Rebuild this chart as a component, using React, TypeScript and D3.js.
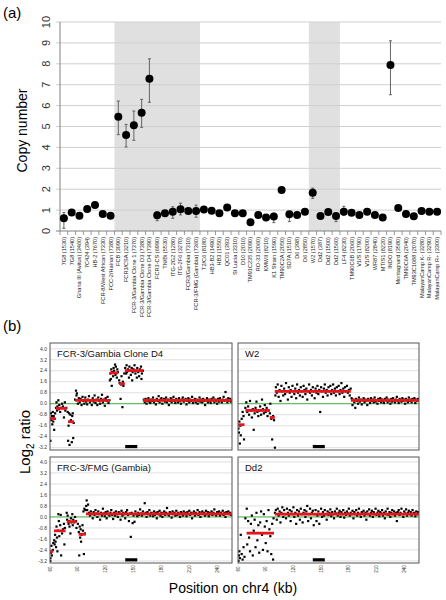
import React from 'react';
import * as d3 from 'd3';

// ---------- Panel (a) data ----------
const categories = [
  '7G8 (1530)', '7G8 (1540)', 'Ghana III (Avitus) (3460)', '7C424 (394)', 'HB-2 (7670)',
  'FCR-8/West African (7330)', 'FCC-2/Hainan (7380)', 'FCB (3090)', 'FCR3/CSA (3210)',
  'FCR-3/Gambia Clone 1 (7370)', 'FCR-3/Gambia Clone D3 (7380)', 'FCR-3/Gambia Clone D4 (7390)',
  'FCR3-CS (6990)', 'TN/Bi (5530)', 'ITG-2G2 (1280)', 'ITG-2F6 (3270)', 'FCR3/Gambia (7310)',
  'FCR-3/FMG (Gambia) (7360)', 'T2/C6 (8180)', 'HB3-B2 (1490)', 'HB3 (1550)', 'QC01 (393)',
  'St Lucia (3310)', 'D10 (2010)', 'TM91C235 (2090)', 'RO-33 (2060)', 'KMWII (8210)',
  'K1 Strain (1590)', 'TM90C2A (2050)', 'SD7A (1510)', 'D6 (398)', 'D6 (2850)', 'W2 (1570)',
  'Dd2 (387)', 'Dd2 (1500)', 'Dd2 (1560)', 'LF4 (8230)', 'TM90C6B (2060)', 'V1/S (1790)',
  'V1/S (8200)', 'WR87 (2840)', 'MT/S1 (8220)', 'INDO (8190)', 'Montagnard (3580)',
  'TM90C6A (2040)', 'TM93C1088 (2070)', 'MalayanCamp K- (3280)', 'MalayanCamp R- (3290)',
  'MalayanCamp R+ (3300)',
];
const copyNumber = [
  0.61, 0.88, 0.73, 1.05, 1.24, 0.81, 0.73, 5.47, 4.59, 5.06, 5.66, 7.29, 0.75, 0.85, 0.92, 1.04,
  0.96, 0.96, 1.03, 0.97, 0.85, 1.12, 0.85, 0.85, 0.42, 0.77, 0.65, 0.69, 1.96, 0.8, 0.77, 0.92,
  1.83, 0.72, 0.91, 0.72, 0.92, 0.87, 0.77, 0.92, 0.77, 0.65, 7.94, 1.1, 0.81, 0.71, 0.96, 0.92, 0.92,
];
const errLow = [
  0.13, 0.83, 0.68, 1.0, 1.19, 0.76, 0.68, 4.61, 4.02, 4.34, 4.96, 6.16, 0.49, 0.8, 0.61, 0.77,
  0.91, 0.66, 0.98, 0.92, 0.8, 1.07, 0.8, 0.8, 0.37, 0.72, 0.6, 0.4, 1.91, 0.45, 0.72, 0.87,
  1.56, 0.67, 0.86, 0.45, 0.76, 0.82, 0.72, 0.87, 0.72, 0.6, 6.52, 1.05, 0.76, 0.66, 0.91, 0.87, 0.87,
];
const errHigh = [
  0.88, 0.93, 0.78, 1.1, 1.29, 0.86, 0.78, 6.22, 5.1, 5.74, 6.3, 8.24, 0.92, 0.9, 1.16, 1.33,
  1.01, 1.24, 1.08, 1.02, 0.9, 1.17, 0.9, 0.9, 0.47, 0.82, 0.7, 0.85, 2.01, 0.92, 0.82, 0.97,
  2.05, 0.77, 0.96, 0.85, 1.18, 0.92, 0.82, 0.97, 0.82, 0.7, 9.1, 1.15, 0.86, 0.76, 1.01, 0.97, 0.97,
];
const shadedGroups = [
  ['FCB (3090)', 'FCR-3/FMG (Gambia) (7360)'],
  ['W2 (1570)', 'Dd2 (1560)'],
];
const copyTicks = [0, 1, 2, 3, 4, 5, 6, 7, 8, 9, 10];

// ---------- Panel (b) data ----------
const panelTitles = ['FCR-3/Gambia Clone D4', 'W2', 'FRC-3/FMG (Gambia)', 'Dd2'];
const log2Ticks = [4.0, 3.2, 2.4, 1.6, 0.8, 0.0, -0.8, -1.6, -2.4, -3.2];
const positionTicks = [60, 90, 120, 150, 180, 210, 240];
const ampliconRegion = [141, 154];

// segments: [start kb, end kb, log2 ratio]
const segD4 = [[60, 65.4, -1.07], [66.5, 78, -0.34], [79.4, 85.8, -1.31], [87, 124.5, 0.24], [124.5, 133.5, 2.24], [134.5, 140.6, 1.46], [140.6, 160.3, 2.41], [160.3, 256, 0.24]];
const segW2 = [[60, 67, -1.53], [68, 94.4, -0.49], [94.4, 99.8, -1.0], [99.8, 182.2, 0.9], [182.2, 256, 0.24]];
const segFMG = [[60, 63.6, -2.51], [64.3, 76.8, -1.01], [78, 88.7, -0.34], [90.8, 98.7, -1.26], [98.7, 256, 0.22]];
const segDd2 = [[69.3, 99, -1.18], [99.8, 256, 0.2]];

// probes: flat [kb, log2, kb, log2, ...]
const probesD4 = [
  60.5, -2.7, 61, -0.7, 61.5, -1.2, 62, -0.9, 62.5, -1.5, 63, -0.6, 63.5, -1.3, 64, -0.9, 64.5, -1.9, 65, -1.1, 65.5, -0.7,
  66.5, -0.3, 67, 0.1, 67.5, -0.5, 68, -0.2, 69, 0.25, 69.5, -0.4, 70, -0.1, 71, -0.6, 72, -0.3, 73, 0.0, 74, -0.2, 75, -1.0, 76, 0.1, 76.5, -0.5, 77.5, -0.3,
  79, -0.6, 79.5, -2.7, 80, -1.6, 80.5, -0.7, 81, -3.0, 82, -0.8, 82.5, -1.2, 83, -1.3, 83.5, -2.8, 84, -0.9, 84.5, -0.7, 85, -2.5, 85.5, -1.4,
  87, 0.3, 88, 0.95, 88.5, 0.6, 89, 0.75, 90, 0.0, 91, 0.4, 92, 0.1, 93, 0.35, 94, -0.1, 95, 0.5, 96, 0.2, 97, 0.0, 98, 0.45, 99, 0.15, 100, -0.05,
  101, 0.3, 102, 0.55, 103, 0.1, 104, 0.25, 105, -0.1, 106, 0.4, 107, 0.15, 108, 0.6, 109, 0.05, 110, 0.3, 111, -0.1, 112, 0.45, 113, 0.2, 114, 0.0,
  115, 0.35, 116, 0.65, 117, 0.1, 118, 0.3, 119, -0.15, 120, 0.4, 121, 0.2, 122, 0.5, 123, 0.05, 124, 0.25,
  124.5, 1.7, 125, 2.2, 125.5, 1.8, 126, 2.5, 126.5, 1.3, 127, 2.3, 128, 2.0, 128.5, 2.6, 129, 2.4, 130, 2.85, 130.5, 2.1, 131, 2.7, 132, 1.9, 132.5, 2.5, 133, 2.3,
  134.5, 1.7, 135, 1.5, 136, 0.35, 136.5, 1.4, 137, 2.0, 138, -0.25, 138.5, 1.6, 139, 1.3, 140, 2.2,
  141, 2.6, 142, 2.2, 142.5, 2.8, 143, 2.3, 144, 2.5, 145, 1.9, 145.5, 2.7, 146, 2.4, 147, 2.1, 148, 2.6, 148.5, 1.7, 149, 2.3, 150, 2.5, 151, 2.8,
  152, 2.2, 153, 2.4, 153.5, 1.9, 154, 2.6, 155, 2.3, 156, 2.0, 157, 2.5, 158, 2.7, 158.5, 1.8, 159, 2.2, 160, 2.4,
  161, 0.3, 162, 0.1, 163, 0.35, 164, 0.0, 165, 0.2, 166, 0.4, 167, 0.15, 168, 0.05, 169, 0.3, 170, 0.2, 171, 0.45, 172, 0.1, 173, 0.25, 174, -0.05,
  175, 0.35, 176, 0.2, 177, 0.55, 178, 0.1, 179, 0.3, 180, 0.4, 181, 0.0, 182, 0.25, 183, 0.35, 184, 0.15, 185, 0.45, 186, 0.1, 187, 0.3, 188, -0.1,
  189, 0.2, 190, 0.4, 191, 0.1, 192, 0.3, 193, 0.5, 194, 0.2, 195, 0.05, 196, 0.35, 197, 0.25, 198, 0.1, 199, 0.4, 200, 0.2, 201, 0.0, 202, 0.3,
  203, 0.45, 204, 0.15, 205, 0.25, 206, 0.35, 207, -0.05, 208, 0.2, 209, 0.4, 210, 0.1, 211, 0.3, 212, 0.2, 213, 0.5, 214, 0.05, 215, 0.25, 216, 0.35,
  217, 0.1, 218, 0.3, 219, 0.0, 220, 0.2, 221, 0.45, 222, 0.15, 223, 0.3, 224, 0.1, 225, 0.35, 226, 0.2, 227, -0.1, 228, 0.25, 229, 0.4, 230, 0.1,
  231, 0.3, 232, 0.2, 233, 0.05, 234, 0.35, 235, 0.25, 236, 0.45, 237, 0.1, 238, 0.3, 239, 0.2, 240, 0.0, 241, 0.35, 242, 0.15, 243, 0.4, 244, 0.25,
  245, 0.1, 246, 0.3, 247, 0.5, 248, 0.2, 249, 0.85, 250, 0.3, 251, 0.1, 252, 0.4, 253, 0.2, 254, 0.35, 255, 0.15,
];
const probesW2 = [
  60.5, -1.8, 61, -2.1, 61.5, -1.3, 62, -2.9, 62.5, -1.6, 63, -2.3, 64, -1.1, 65, -0.6, 66, -0.9, 66.5, -2.6,
  68, -0.3, 69, 0.1, 70, -0.6, 71, -0.2, 72, -0.8, 73, 0.2, 74, -0.5, 75, -1.0, 76, -0.4, 77, -1.9, 78, -0.7, 79, -0.3, 80, 0.15, 81, -0.6,
  82, -0.9, 83, -0.5, 84, -0.2, 85, -0.8, 86, 0.3, 87, -0.4, 88, -0.7, 89, -0.1, 90, -0.6, 91, -0.3, 92, -0.9, 93, -0.5,
  94.5, -0.7, 95, 0.0, 96, -1.1, 97, -2.6, 98, -0.9, 99, -1.2, 100, -3.2,
  100.5, 0.6, 101, 1.2, 102, 0.8, 103, 1.4, 104, 0.5, 105, 1.0, 106, 0.2, 107, 1.3, 108, 0.9, 109, 0.6, 110, 1.1, 111, 0.7, 112, 1.5, 113, 0.9,
  114, 0.3, 115, 1.2, 116, 0.8, 117, 1.0, 118, 0.5, 119, 1.3, 120, 0.9, 121, 0.7, 122, 1.1, 123, 0.4, 124, 1.4, 125, 0.8, 126, 1.0, 127, 0.6,
  128, 1.2, 129, 0.9, 130, 0.5, 131, 1.3, 132, 1.0, 133, 0.7, 134, 1.1, 135, 0.3, 136, 0.9, 137, 1.4, 138, 0.8, 139, 1.0, 140, 0.6, 141, 1.2,
  142, 0.9, 143, 0.4, 144, 1.1, 145, 0.8, 146, 1.3, 147, 0.7, 148, 1.0, 149, -0.6, 150, 1.2, 151, 0.9, 152, 0.5, 153, 1.1, 154, 1.4, 155, 0.8,
  156, 1.0, 157, 0.6, 158, 1.2, 159, 0.9, 160, 1.3, 161, 0.7, 162, 1.0, 163, 1.4, 164, 0.8, 165, 1.1, 166, 0.6, 167, 1.2, 168, 0.9, 169, 1.3,
  170, 0.7, 171, 1.0, 172, 1.5, 173, 0.8, 174, 1.1, 175, 0.5, 176, 1.2, 177, 0.9, 178, 1.3, 179, 0.8, 180, 1.0, 181, 0.6, 182, 1.1,
  183, 0.4, 184, -0.1, 185, 0.3, 186, 0.1, 187, -0.3, 188, 0.35, 189, 0.2, 190, 0.0, 191, 0.45, 192, 0.15, 193, 0.3, 194, -0.05, 195, 0.25,
  196, 0.4, 197, 0.1, 198, 0.3, 199, 0.2, 200, -0.1, 201, 0.35, 202, 0.25, 203, 0.05, 204, 0.4, 205, 0.2, 206, 0.3, 207, 0.1, 208, 0.45,
  209, 0.15, 210, 0.25, 211, 0.0, 212, 0.35, 213, 0.2, 214, 0.4, 215, 0.1, 216, 0.3, 217, 0.2, 218, 0.05, 219, 0.35, 220, 0.25, 221, 0.45,
  222, 0.1, 223, 0.3, 224, 0.2, 225, 0.0, 226, 0.35, 227, 0.15, 228, 0.4, 229, 0.25, 230, 0.1, 231, 0.3, 232, 0.5, 233, 0.2, 234, 0.05,
  235, 0.35, 236, 0.25, 237, 0.15, 238, 0.4, 239, 0.2, 240, 0.3, 241, 0.0, 242, 0.35, 243, 0.25, 244, 0.1, 245, 0.45, 246, 0.2, 247, 0.3,
  248, 0.1, 249, 0.35, 250, 0.25, 251, 0.4, 252, 0.05, 253, 0.3, 254, 0.2, 255, 0.35,
];
const probesFMG = [
  60.3, -3.2, 60.5, -3.0, 61, -2.6, 61.5, -2.1, 62, -2.8, 63, -2.4, 63.5, -1.9,
  64.5, -1.7, 65, -2.0, 65.5, -1.3, 66, -1.8, 66.5, -2.2, 67, -0.7, 67.5, -1.5, 68, -2.5, 68.5, -1.0, 69, 0.2, 69.5, -0.3, 70, -1.4, 71, -0.6,
  71.5, 0.15, 72, -2.8, 73, -1.2, 74, -0.9, 75, -0.5, 75.5, -2.0, 76, -0.8,
  78, 0.3, 78.5, -0.2, 79, 0.1, 80, -0.5, 80.5, -0.3, 81, -0.7, 82, -1.2, 82.5, -0.1, 83, -0.4, 84, 0.2, 84.5, -0.6, 85, -0.2, 86, -0.4, 87, 0.0,
  88, -0.3, 88.5, -0.8,
  90, -0.5, 91, -1.1, 91.5, -2.8, 92, -0.7, 92.5, -1.5, 93, -0.9, 93.5, -1.8, 94, -1.3, 95, -0.6, 95.5, -1.0, 96, 0.4, 96.5, -2.7, 97, 0.6,
  97.5, -1.2, 98, 0.5,
  99, 0.8, 99.5, 1.2, 100, 0.5, 101, 0.9, 102, 0.3, 103, 0.1, 104, 0.4, 105, 0.2, 106, -0.1, 107, 0.35, 108, 0.15, 109, 0.5, 110, 0.25, 111, 0.0,
  112, 0.4, 113, 0.2, 114, -0.2, 115, 0.3, 116, 0.1, 117, 0.6, 118, 0.25, 119, 0.05, 120, 0.35, 121, -0.1, 122, 0.4, 123, 0.2, 124, 0.1, 125, 0.3,
  126, 0.5, 127, 0.15, 128, -0.15, 129, 0.3, 130, 0.1, 131, 0.4, 132, 0.2, 133, 0.0, 134, 0.35, 135, 0.25, 136, -0.2, 137, 0.45, 138, 0.1, 139, 0.3,
  140, 0.2, 141, -0.1, 142, 0.35, 143, 0.5, 144, 0.15, 145, -0.3, 146, 0.25, 147, -1.45, 148, 0.3, 149, -0.45, 150, 0.1, 151, -0.35, 152, 0.4,
  153, 0.2, 154, 0.05, 155, 0.3, 156, 0.15, 157, 0.55, 158, 0.25, 159, 0.1, 160, 0.4, 161, 0.2, 162, 1.0, 163, 0.3, 164, 0.0, 165, 0.35, 166, 0.2,
  167, 0.5, 168, 0.1, 169, 0.3, 170, 0.25, 171, 0.05, 172, 0.4, 173, 0.15, 174, 0.3, 175, -0.1, 176, 0.35, 177, 0.2, 178, 0.45, 179, 0.1, 180, 0.3,
  181, 0.0, 182, 0.25, 183, 0.4, 184, 0.15, 185, 0.3, 186, 0.65, 187, 0.2, 188, 0.1, 189, 0.35, 190, 0.25, 191, -0.05, 192, 0.4, 193, 0.2, 194, 0.3,
  195, 0.1, 196, 0.45, 197, 0.15, 198, 0.3, 199, 0.2, 200, 0.0, 201, 0.35, 202, 0.25, 203, 0.1, 204, 0.4, 205, 0.2, 206, 0.3, 207, 0.05, 208, 0.35,
  209, 0.2, 210, 0.45, 211, 0.15, 212, 0.3, 213, -0.1, 214, 0.25, 215, 0.4, 216, 0.1, 217, 0.3, 218, 0.2, 219, 0.5, 220, 0.15, 221, 0.35, 222, 0.0,
  223, 0.25, 224, 0.4, 225, 0.2, 226, 0.3, 227, 0.1, 228, 0.45, 229, 0.2, 230, 0.35, 231, 0.05, 232, 0.3, 233, 0.2, 234, 0.4, 235, 0.15, 236, 0.3,
  237, 0.55, 238, 0.2, 239, 0.1, 240, 0.35, 241, 0.25, 242, 0.4, 243, 0.1, 244, 0.3, 245, 0.2, 246, 0.45, 247, 0.15, 248, 0.3, 249, 0.0, 250, 0.35,
  251, 0.25, 252, 0.4, 253, 0.2, 254, 0.3, 255, 0.15,
];
const probesDd2 = [
  60.5, -3.2, 61, -2.8, 61.5, -2.5, 62, -3.0, 63, -1.3, 64, -2.7, 65, -3.1, 66, -2.2, 67, -2.9, 68, -0.1,
  69.5, 0.6, 70, -2.0, 71, -0.3, 72, -1.5, 73, -2.5, 74, -0.5, 75, 0.1, 76, -2.8, 77, -1.0, 78, -0.2, 79, -2.2, 80, 0.3, 81, -1.7, 82, -0.6,
  83, -2.6, 84, -0.4, 85, 0.4, 86, -1.3, 87, -2.4, 88, 0.2, 89, -0.7, 90, -1.9, 91, -0.3, 92, -2.5, 93, 0.5, 94, -0.9, 95, -1.4, 96, -2.7,
  97, -0.5, 98, -3.1, 98.5, -0.1,
  100, 0.3, 101, 0.5, 102, -0.2, 103, 0.6, 104, 0.1, 105, 0.4, 106, -0.4, 107, 0.3, 108, 0.7, 109, 0.0, 110, 0.5, 111, 0.2, 112, -0.1, 113, 0.6,
  114, 0.3, 115, 0.1, 116, 0.5, 117, -0.3, 118, 0.4, 119, 0.2, 120, 0.7, 121, 0.0, 122, 0.3, 123, -0.5, 124, 0.5, 125, 0.1, 126, 0.4, 127, -0.2,
  128, 0.6, 129, 0.2, 130, -0.4, 131, 0.3, 132, 0.5, 133, 0.0, 134, 0.4, 135, 0.8, 136, -0.3, 137, 0.2, 138, 0.6, 139, -0.1, 140, 0.3, 141, 0.45,
  142, -0.6, 143, 0.2, 144, 0.5, 145, -0.3, 146, 0.1, 147, 0.4, 148, -0.5, 149, 0.2, 150, 0.6, 151, 0.0, 152, 0.35, 153, 0.1, 154, 0.5, 155, 0.2,
  156, -0.2, 157, 0.4, 158, 0.15, 159, 0.3, 160, 0.55, 161, 0.05, 162, 0.35, 163, 0.2, 164, -0.1, 165, 0.4, 166, 0.25, 167, 0.6, 168, 0.1, 169, 0.3,
  170, 0.45, 171, 0.0, 172, 0.35, 173, 0.2, 174, 0.5, 175, -0.05, 176, 0.3, 177, 0.15, 178, 0.4, 179, 0.25, 180, 0.6, 181, 0.1, 182, 0.3, 183, 0.2,
  184, 0.45, 185, -0.1, 186, 0.35, 187, 0.2, 188, 0.5, 189, 0.1, 190, 0.3, 191, 0.6, 192, 0.2, 193, 0.0, 194, 0.35, 195, 0.25, 196, 0.45, 197, 0.1,
  198, 0.3, 199, -0.2, 200, 0.4, 201, 0.2, 202, 0.55, 203, 0.1, 204, 0.3, 205, 0.45, 206, 0.0, 207, 0.35, 208, 0.2, 209, 0.6, 210, 0.15, 211, 0.3,
  212, 0.45, 213, 0.05, 214, 0.35, 215, 0.25, 216, 0.5, 217, 0.1, 218, 0.3, 219, -0.1, 220, 0.4, 221, 0.2, 222, 0.6, 223, 0.15, 224, 0.35, 225, 0.0,
  226, 0.3, 227, 0.5, 228, 0.2, 229, 0.4, 230, 0.1, 231, 0.3, 232, -0.3, 233, 0.35, 234, 0.5, 235, 0.15, 236, 0.3, 237, 0.6, 238, 0.2, 239, 0.0,
  240, 0.4, 241, 0.25, 242, 0.55, 243, 0.1, 244, 0.3, 245, 0.45, 246, 0.2, 247, 0.35, 248, 0.1, 249, 0.5, 250, 0.25, 251, 0.3, 252, 0.05, 253, 0.4,
  254, 0.2, 255, 0.35,
];

const panelSegments = [segD4, segW2, segFMG, segDd2];
const panelProbes = [probesD4, probesW2, probesFMG, probesDd2];

const FONT = "'Liberation Sans', Arial, sans-serif";

function PanelA() {
  const x = d3.scaleBand<string>().domain(categories).range([60, 441]).padding(0);
  const y = d3.scaleLinear().domain([0, 10]).range([231, 22]);
  const bw = x.bandwidth();
  return (
    <g>
      <text x={3} y={18} fontSize={15} fontFamily={FONT}>(a)</text>
      {shadedGroups.map(([a, b], i) => (
        <rect key={i} x={x(a)} y={y(10)} width={(x(b) as number) + bw - (x(a) as number)} height={y(0) - y(10)} fill="#e0e0e0" />
      ))}
      {copyTicks.filter((t) => t > 0).map((t) => (
        <line key={t} x1={56} x2={441} y1={y(t)} y2={y(t)} stroke="#cfcfcf" strokeWidth={1} />
      ))}
      <line x1={60} x2={60} y1={y(10)} y2={y(0)} stroke="#808080" strokeWidth={1} />
      <line x1={56} x2={441} y1={y(0)} y2={y(0)} stroke="#808080" strokeWidth={1} />
      {copyTicks.map((t) => (
        <text key={t} transform={`translate(50,${y(t)}) rotate(-90)`} textAnchor="middle" fontSize={11} fill="#333" fontFamily={FONT}>{t}</text>
      ))}
      <text transform={`translate(27,${(y(0) + y(10)) / 2 + 4}) rotate(-90)`} textAnchor="middle" fontSize={14} fontFamily={FONT}>Copy number</text>
      {categories.map((c, i) => (
        <line key={'t' + i} x1={(x(c) as number) + bw} x2={(x(c) as number) + bw} y1={y(0)} y2={y(0) + 4} stroke="#808080" strokeWidth={0.8} />
      ))}
      <line x1={60} x2={60} y1={y(0)} y2={y(0) + 4} stroke="#808080" strokeWidth={0.8} />
      {categories.map((c, i) => {
        const cx = (x(c) as number) + bw / 2;
        return (
          <g key={'e' + i}>
            <line x1={cx} x2={cx} y1={y(errLow[i])} y2={y(errHigh[i])} stroke="#555" strokeWidth={0.9} />
            <line x1={cx - 1.5} x2={cx + 1.5} y1={y(errLow[i])} y2={y(errLow[i])} stroke="#555" strokeWidth={0.9} />
            <line x1={cx - 1.5} x2={cx + 1.5} y1={y(errHigh[i])} y2={y(errHigh[i])} stroke="#555" strokeWidth={0.9} />
            <circle cx={cx} cy={y(copyNumber[i])} r={4} fill="#000" />
          </g>
        );
      })}
      {categories.map((c, i) => {
        const cx = (x(c) as number) + bw / 2;
        return (
          <text key={'l' + i} transform={`translate(${cx},237) rotate(-90)`} textAnchor="end" dy="0.35em" fontSize={5.6} fill="#222" fontFamily={FONT}>{c}</text>
        );
      })}
    </g>
  );
}

function LogPanel({ idx, x0, x1, y0, y1, dom, showY, showX }: any) {
  const x = d3.scaleLinear().domain([60, 256]).range([x0, x1]);
  const y = d3.scaleLinear().domain(dom).range([y1, y0]);
  const probes: number[] = panelProbes[idx];
  const pts: [number, number][] = [];
  for (let i = 0; i < probes.length; i += 2) pts.push([probes[i], probes[i + 1]]);
  const clipId = 'clip' + idx;
  return (
    <g>
      <defs>
        <clipPath id={clipId}><rect x={x0} y={y0} width={x1 - x0} height={y1 - y0} /></clipPath>
      </defs>
      <rect x={x0} y={y0} width={x1 - x0} height={y1 - y0} fill="#fff" />
      {log2Ticks.map((t) => (
        <line key={t} x1={x0} x2={x1} y1={y(t)} y2={y(t)} stroke="#d8d8d8" strokeWidth={0.8} />
      ))}
      <line x1={x0} x2={x1} y1={y(0)} y2={y(0)} stroke="#49b849" strokeWidth={1} />
      <g clipPath={`url(#${clipId})`}>
        {pts.map(([px, py], i) => (
          <rect key={i} x={x(px) - 1.1} y={y(py) - 1.1} width={2.2} height={2.2} fill="#000" />
        ))}
        {panelSegments[idx].map((s: number[], i: number) => (
          <line key={'s' + i} x1={x(s[0])} x2={x(s[1])} y1={y(s[2])} y2={y(s[2])} stroke="#e8141b" strokeWidth={2.8} />
        ))}
      </g>
      <rect x={x(ampliconRegion[0])} y={y(-3.12) - 1.6} width={x(ampliconRegion[1]) - x(ampliconRegion[0])} height={3.2} fill="#000" />
      <rect x={x0} y={y0} width={x1 - x0} height={y1 - y0} fill="none" stroke="#555" strokeWidth={1} />
      <text x={x0 + 7} y={y0 + 14} fontSize={9.5} fill="#111" fontFamily={FONT}>{panelTitles[idx]}</text>
      {showY && log2Ticks.map((t) => (
        <text key={'y' + t} x={x0 - 3} y={y(t)} dy="0.35em" textAnchor="end" fontSize={5} fill="#333" fontFamily={FONT}>{t.toFixed(1)}</text>
      ))}
      {showX && positionTicks.map((t) => (
        <text key={'x' + t} transform={`translate(${x(t)},${y1 + 6}) rotate(-90)`} dy="0.35em" textAnchor="middle" fontSize={4.6} fill="#333" fontFamily={FONT}>{t}</text>
      ))}
    </g>
  );
}

function PanelB() {
  const topDom = [-3.37, 4.42];
  const botDom = [-3.35, 4.36];
  return (
    <g>
      <text x={3} y={331} fontSize={15} fontFamily={FONT}>(b)</text>
      <LogPanel idx={0} x0={50} x1={232} y0={343} y1={450} dom={topDom} showY showX={false} />
      <LogPanel idx={1} x0={238} x1={419} y0={343} y1={450} dom={topDom} showY={false} showX={false} />
      <LogPanel idx={2} x0={50} x1={232} y0={457} y1={563} dom={botDom} showY showX />
      <LogPanel idx={3} x0={238} x1={419} y0={457} y1={563} dom={botDom} showY={false} showX />
      <text transform="translate(30,442) rotate(-90)" textAnchor="middle" fontSize={15} fontFamily={FONT}>
        Log<tspan fontSize={10} dy={4}>2</tspan><tspan dy={-4}> ratio</tspan>
      </text>
      <text x={233} y={593} textAnchor="middle" fontSize={14} fontFamily={FONT}>Position on chr4 (kb)</text>
    </g>
  );
}

export default function App() {
  return (
    <svg width={446} height={600} style={{ position: 'absolute', left: 0, top: 0, background: '#fff' }}>
      <rect width={446} height={600} fill="#fff" />
      <PanelA />
      <PanelB />
    </svg>
  );
}
